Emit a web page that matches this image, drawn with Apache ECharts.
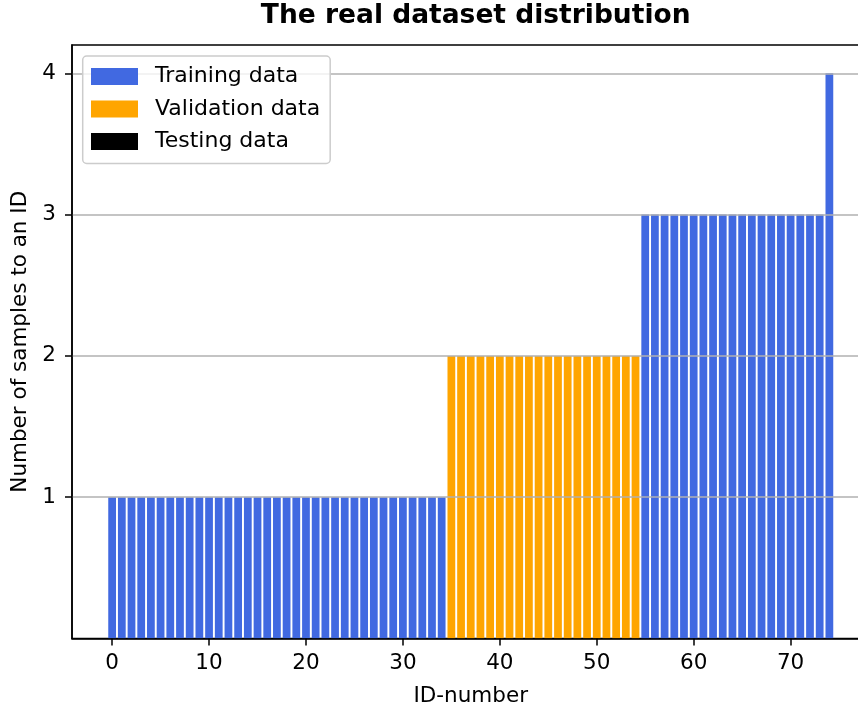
<!DOCTYPE html>
<html><head><meta charset="utf-8">
<script src="https://cdn.jsdelivr.net/npm/echarts@6/dist/echarts.min.js"></script>
<style>html,body{margin:0;padding:0;background:#fff}#c{width:858px;height:706px}</style>
</head><body><div id="c"></div>
<script>
const titleText = 'The real dataset distribution';
const xAxisName = 'ID-number';
const yAxisName = 'Number of samples to an ID';
const seriesNames = ['Training data', 'Validation data', 'Testing data'];
const trainingIds = [0,1,2,3,4,5,6,7,8,9,10,11,12,13,14,15,16,17,18,19,20,21,22,23,24,25,26,27,28,29,30,31,32,33,34,
                     55,56,57,58,59,60,61,62,63,64,65,66,67,68,69,70,71,72,73,74];
const trainingCounts = [1,1,1,1,1,1,1,1,1,1,1,1,1,1,1,1,1,1,1,1,1,1,1,1,1,1,1,1,1,1,1,1,1,1,1,
                        3,3,3,3,3,3,3,3,3,3,3,3,3,3,3,3,3,3,3,4];
const validationIds = [35,36,37,38,39,40,41,42,43,44,45,46,47,48,49,50,51,52,53,54];
const validationCounts = [2,2,2,2,2,2,2,2,2,2,2,2,2,2,2,2,2,2,2,2];
const testingIds = [];
const testingCounts = [];
const xTicks = [0, 10, 20, 30, 40, 50, 60, 70];
const yTicks = [1, 2, 3, 4];

function pairs(xs, ys) { return xs.map((x, i) => [x, ys[i]]); }

const FONT = 'DejaVu Sans';
const FS = 21.5;
const chart = echarts.init(document.getElementById('c'), null, {renderer: 'canvas'});
const barCommon = {type: 'bar', barWidth: '80%', barGap: '-100%', z: 2};
chart.setOption({
  animation: false,
  backgroundColor: '#ffffff',
  title: {
    text: titleText, left: 470.7, textAlign: 'center', top: -2,
    textStyle: {fontFamily: FONT, fontSize: 26.5, fontWeight: 'bold', color: '#000'}
  },
  legend: {
    orient: 'vertical', left: 82.7, top: 56,
    padding: [9.5, 10, 11, 8.3],
    itemWidth: 47, itemHeight: 17, itemGap: 10.5,
    icon: 'rect',
    backgroundColor: 'rgba(255,255,255,0.8)',
    borderColor: '#cccccc', borderWidth: 1.5, borderRadius: 4,
    z: 6,
    textStyle: {fontFamily: FONT, fontSize: 22, lineHeight: 19, color: '#000', padding: [0, 0, 0, 12]},
    data: seriesNames
  },
  grid: {
    left: 72, top: 45, right: -11.5, bottom: 67.5,
    outerBoundsMode: 'none', containLabel: false,
    show: true, borderColor: '#000', borderWidth: 1.5, backgroundColor: 'transparent'
  },
  xAxis: {
    type: 'value', min: -4.14, max: 78.14, z: 3,
    name: xAxisName, nameLocation: 'middle', nameGap: 47,
    nameTextStyle: {fontFamily: FONT, fontSize: FS, color: '#000'},
    axisLine: {show: true, onZero: false, lineStyle: {color: '#000', width: 1.5}},
    axisTick: {show: true, length: 7, customValues: xTicks, lineStyle: {color: '#000', width: 1.5}},
    axisLabel: {customValues: xTicks, margin: 14, fontFamily: FONT, fontSize: FS, color: '#000'},
    splitLine: {show: false}
  },
  yAxis: {
    type: 'value', min: 0, max: 4.2, z: 3,
    name: yAxisName, nameLocation: 'middle', nameGap: 40, nameRotate: 90,
    nameTextStyle: {fontFamily: FONT, fontSize: FS, color: '#000'},
    axisLine: {show: true, onZero: false, lineStyle: {color: '#000', width: 1.5}},
    axisTick: {show: true, length: 7, customValues: yTicks, lineStyle: {color: '#000', width: 1.5}},
    axisLabel: {customValues: yTicks, margin: 16, fontFamily: FONT, fontSize: FS, color: '#000'},
    splitLine: {show: true, lineStyle: {color: '#b0b0b0', width: 1.5}}
  },
  series: [
    Object.assign({}, barCommon, {name: seriesNames[0], itemStyle: {color: '#4169E1'}, data: pairs(trainingIds, trainingCounts)}),
    Object.assign({}, barCommon, {name: seriesNames[1], itemStyle: {color: '#FFA500'}, data: pairs(validationIds, validationCounts)}),
    Object.assign({}, barCommon, {name: seriesNames[2], itemStyle: {color: '#000000'}, data: pairs(testingIds, testingCounts)})
  ]
});
</script></body></html>
